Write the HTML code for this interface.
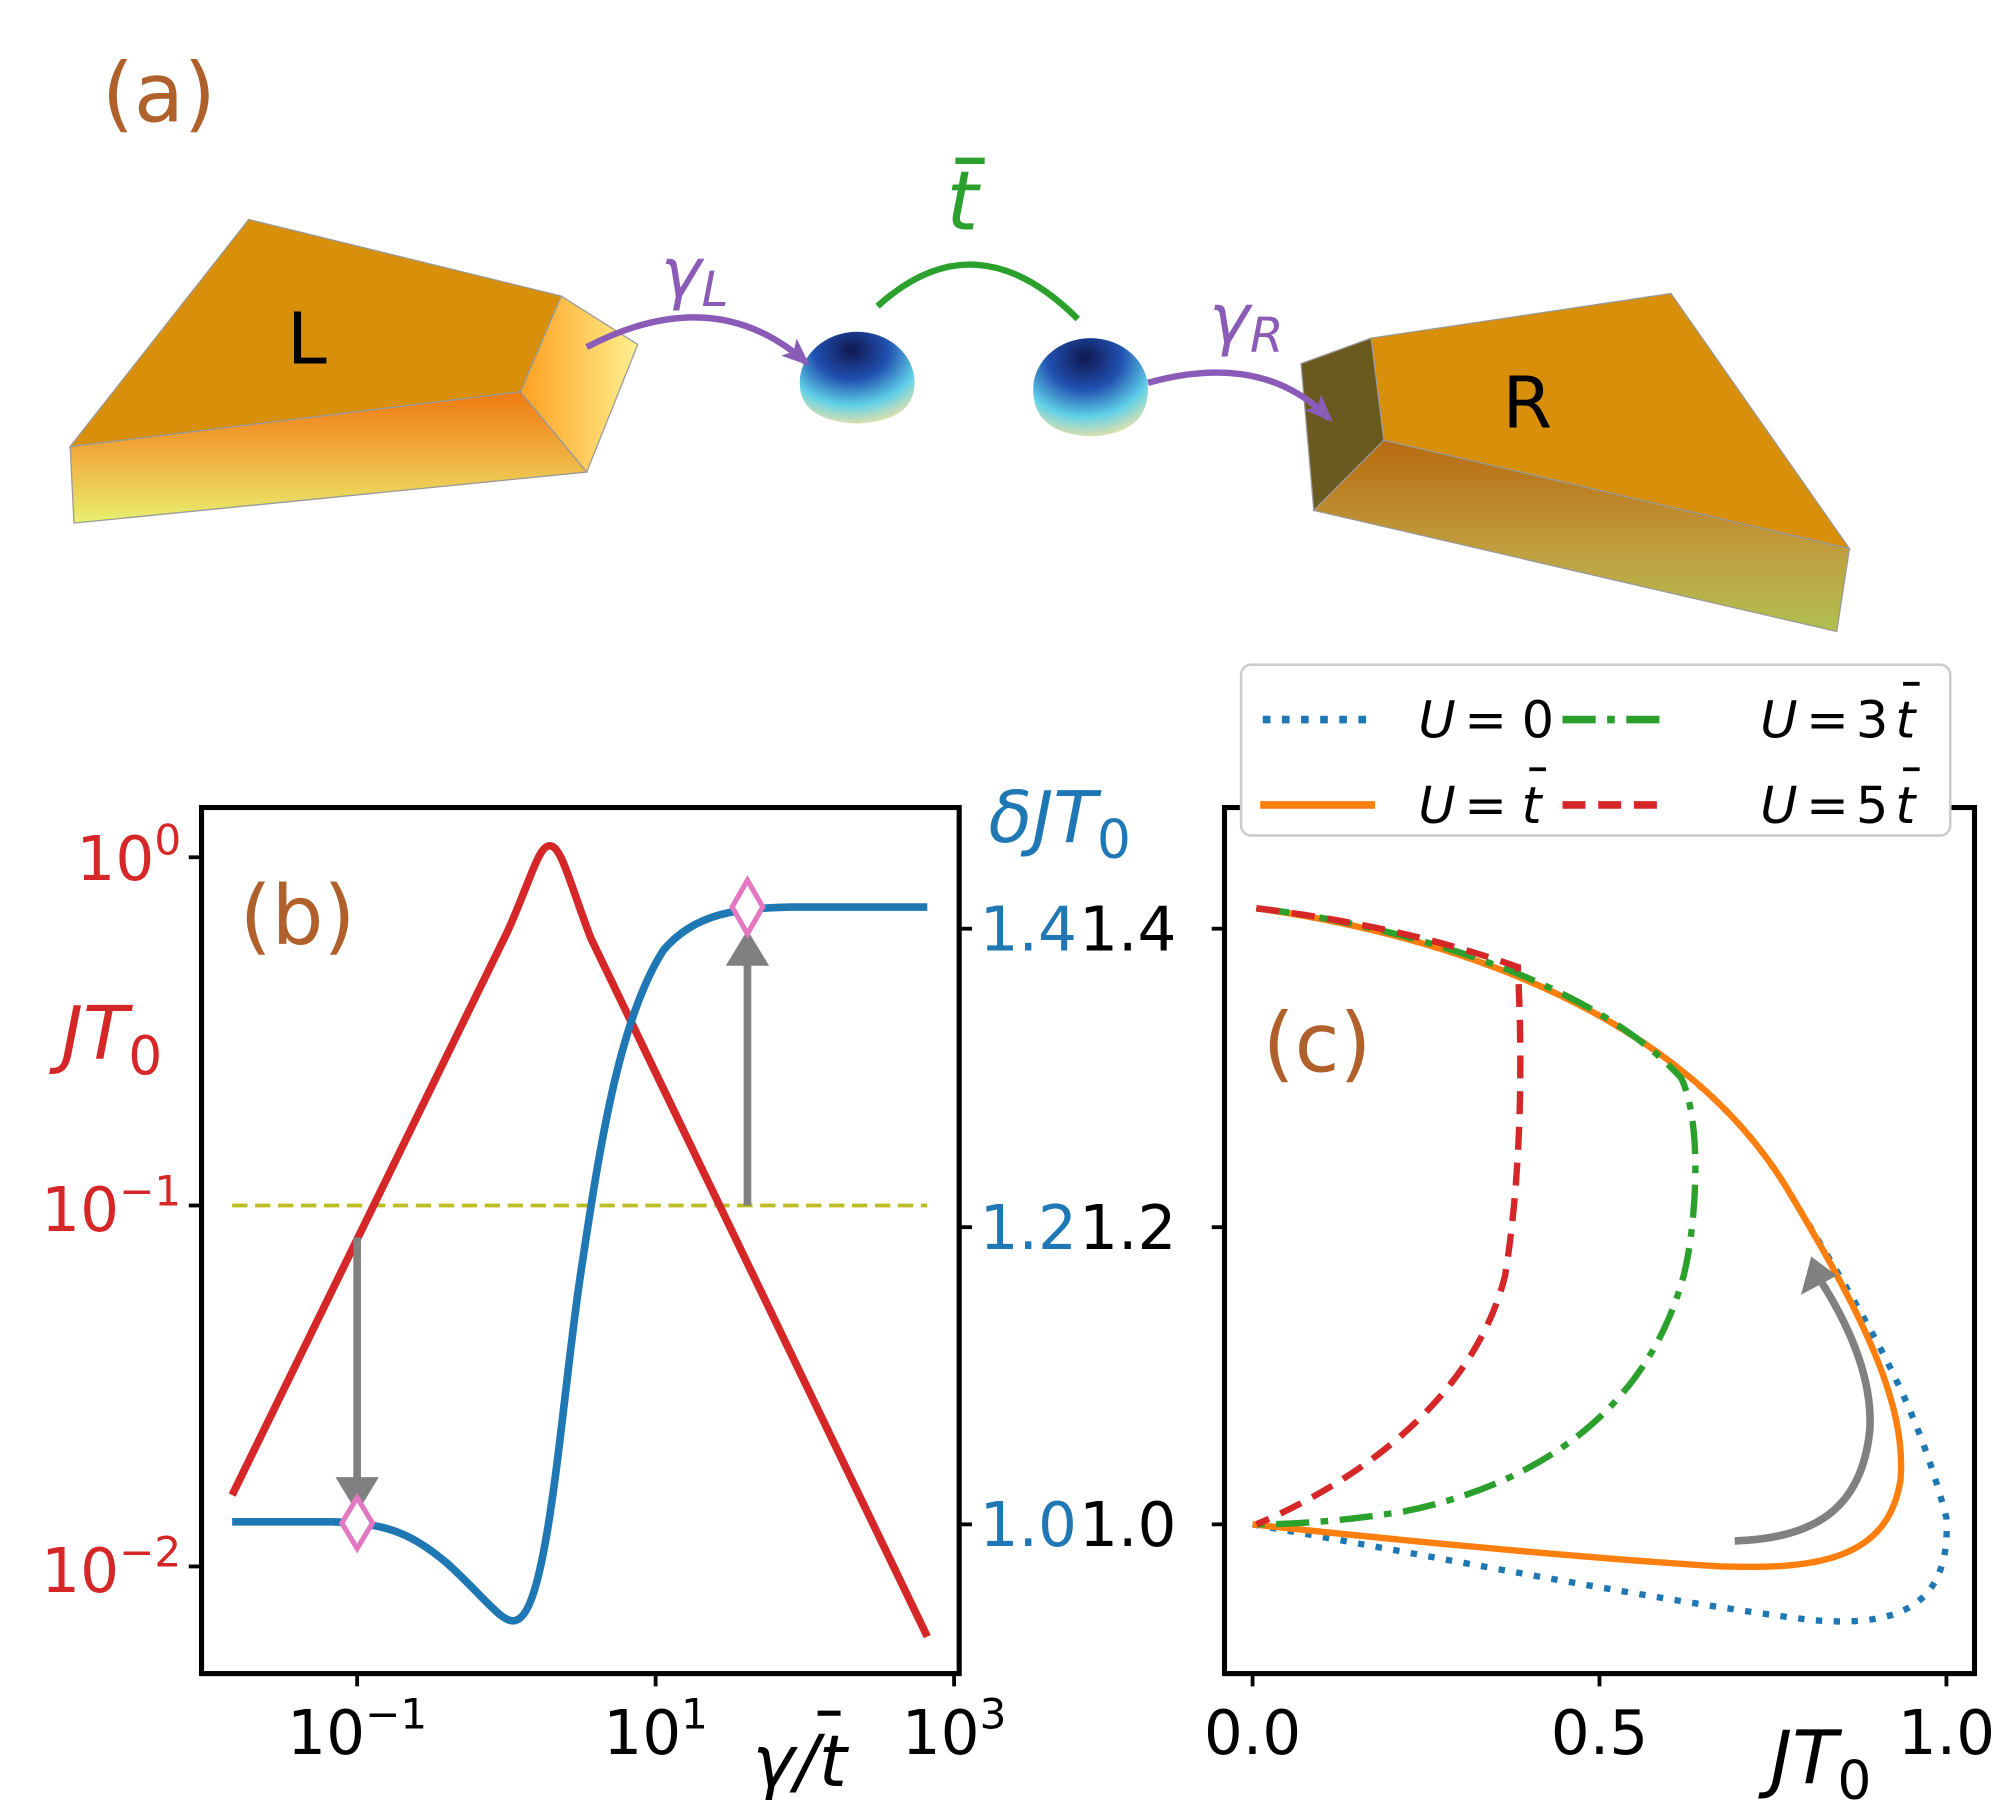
<!DOCTYPE html>
<html><head><meta charset="utf-8"><style>html,body{margin:0;padding:0;background:#fff}svg{display:block}</style></head>
<body>
<svg width="2000" height="1800" viewBox="0 0 1568 1411" xmlns="http://www.w3.org/2000/svg" font-family="DejaVu Sans, Liberation Sans, sans-serif">
<defs>
<linearGradient id="gf" x1="0" y1="0" x2="0" y2="1"><stop offset="0" stop-color="#f07a10"/><stop offset="0.5" stop-color="#f0b040"/><stop offset="1" stop-color="#e8f070"/></linearGradient>
<linearGradient id="gs" x1="0" y1="0" x2="1" y2="0"><stop offset="0" stop-color="#ffa020"/><stop offset="1" stop-color="#fff090"/></linearGradient>
<linearGradient id="gr" x1="0" y1="0" x2="0" y2="1"><stop offset="0" stop-color="#b86a10"/><stop offset="0.6" stop-color="#c0a040"/><stop offset="1" stop-color="#b0c050"/></linearGradient>
<radialGradient id="gb" cx="0.45" cy="0.2" r="0.8"><stop offset="0" stop-color="#101850"/><stop offset="0.4" stop-color="#2050b0"/><stop offset="0.75" stop-color="#60d0e8"/><stop offset="1" stop-color="#d8e0b0"/></radialGradient>
<marker id="ap" markerWidth="22" markerHeight="18" refX="18" refY="9" orient="auto" markerUnits="userSpaceOnUse" viewBox="0 0 22 18"><path d="M0,0 L22,9 L0,18 L5,9 z" fill="#8a5cb8"/></marker>
</defs>
<!-- panel a -->
<text x="80" y="95" font-size="64" fill="#b0602a">(a)</text>
<polygon points="55,350 408,307 460,370 58,410" fill="url(#gf)" stroke="#999" stroke-width="1"/>
<polygon points="408,307 440,232 500,270 460,370" fill="url(#gs)" stroke="#999" stroke-width="1"/>
<polygon points="55,350 195,172 440,232 408,307" fill="#d8900a" stroke="#999" stroke-width="1"/>
<text x="225" y="285" font-size="56" fill="#000">L</text>
<polygon points="1020,285 1075,265 1085,345 1030,400" fill="#6a5a20" stroke="#999" stroke-width="1"/>
<polygon points="1085,345 1450,430 1440,495 1030,400" fill="url(#gr)" stroke="#999" stroke-width="1"/>
<polygon points="1075,265 1310,230 1450,430 1085,345" fill="#d8900a" stroke="#999" stroke-width="1"/>
<text x="1178" y="335" font-size="56" fill="#000">R</text>
<path d="M627,300 A45,40 0 0 1 717,300 Q717,330 672,332 Q627,330 627,300z" fill="url(#gb)"/>
<path d="M810,305 A45,40 0 0 1 900,305 Q900,340 855,342 Q810,340 810,305z" fill="url(#gb)"/>
<path d="M460,272 Q560,220 632,284" fill="none" stroke="#8a5cb8" stroke-width="5" marker-end="url(#ap)"/>
<path d="M900,300 Q990,275 1042,328" fill="none" stroke="#8a5cb8" stroke-width="5" marker-end="url(#ap)"/>
<path d="M688,240 Q765,170 845,250" fill="none" stroke="#2ca02c" stroke-width="5"/>
<text x="518" y="232" font-size="54" font-style="italic" fill="#8a5cb8">γ<tspan font-size="38" dy="8">L</tspan></text>
<text x="948" y="268" font-size="54" font-style="italic" fill="#8a5cb8">γ<tspan font-size="38" dy="8">R</tspan></text>
<text x="742" y="180" font-size="64" font-style="italic" fill="#2ca02c">t</text>
<line x1="749" y1="126" x2="772" y2="126" stroke="#2ca02c" stroke-width="5"/>
<!-- panel b -->
<line x1="182" y1="945" x2="727" y2="945" stroke="#bcbd22" stroke-width="3" stroke-dasharray="12,6"/>
<path d="M182,1172 L398,730 C416,690 422,663 431,663 C440,663 446,690 463,735 L727,1283" fill="none" stroke="#d62728" stroke-width="6" stroke-linejoin="round"/>
<path d="M182,1193 L260,1193 C300,1194 320,1200 350,1225 C380,1252 395,1275 405,1270 C430,1262 440,1100 455,1000 C470,900 485,800 520,745 C545,715 580,712 620,711 L727,711" fill="none" stroke="#1f77b4" stroke-width="6"/>
<line x1="280" y1="970" x2="280" y2="1165" stroke="#808080" stroke-width="6"/>
<polygon points="263,1158 297,1158 280,1186" fill="#808080"/>
<line x1="586" y1="945" x2="586" y2="752" stroke="#808080" stroke-width="6"/>
<polygon points="569,757 603,757 586,729" fill="#808080"/>
<polygon points="280,1174 292,1194 280,1214 268,1194" fill="#fff" stroke="#e377c2" stroke-width="4"/>
<polygon points="586,690 598,711 586,732 574,711" fill="#fff" stroke="#e377c2" stroke-width="4"/>
<rect x="158" y="633" width="594" height="679" fill="none" stroke="#000" stroke-width="4"/>
<text x="188" y="740" font-size="64" fill="#b0602a">(b)</text>
<g stroke="#000" stroke-width="3"><line x1="158" y1="672" x2="148" y2="672"/><line x1="158" y1="945" x2="148" y2="945"/><line x1="158" y1="1228" x2="148" y2="1228"/>
<line x1="280" y1="1312" x2="280" y2="1322"/><line x1="514" y1="1312" x2="514" y2="1322"/><line x1="748" y1="1312" x2="748" y2="1322"/>
<line x1="752" y1="728" x2="762" y2="728"/><line x1="752" y1="962" x2="762" y2="962"/><line x1="752" y1="1195" x2="762" y2="1195"/></g>
<g fill="#d62728" font-size="48" text-anchor="end"><text x="142" y="690">10<tspan font-size="33" dy="-20">0</tspan></text><text x="142" y="965">10<tspan font-size="33" dy="-20">−1</tspan></text><text x="142" y="1248">10<tspan font-size="33" dy="-20">−2</tspan></text></g>
<text x="48" y="830" font-size="58" font-style="italic" fill="#d62728">JT<tspan font-style="normal" font-size="42" dy="12">0</tspan></text>
<text x="775" y="660" font-size="56" font-style="italic" fill="#1f77b4">δJT<tspan font-style="normal" font-size="42" dy="12">0</tspan></text>
<g font-size="48" text-anchor="middle" fill="#000"><text x="280" y="1375">10<tspan font-size="33" dy="-20">−1</tspan></text><text x="514" y="1375">10<tspan font-size="33" dy="-20">1</tspan></text><text x="748" y="1375">10<tspan font-size="33" dy="-20">3</tspan></text></g>
<text x="590" y="1400" font-size="56" font-style="italic">γ/t</text>
<line x1="641" y1="1343" x2="659" y2="1343" stroke="#000" stroke-width="4"/>
<g font-size="48"><text x="768" y="745" fill="#1f77b4">1.4</text><text x="768" y="979" fill="#1f77b4">1.2</text><text x="768" y="1212" fill="#1f77b4">1.0</text>
<text x="846" y="745">1.4</text><text x="846" y="979">1.2</text><text x="846" y="1212">1.0</text></g>
<!-- panel c -->
<path d="M985,712 C1150,735 1320,800 1400,930 C1460,1030 1500,1090 1526,1190 C1530,1265 1480,1275 1420,1270 C1300,1255 1150,1225 982,1195" fill="none" stroke="#1f77b4" stroke-width="5" stroke-dasharray="5,9"/>
<path d="M985,712 C1150,735 1320,800 1400,930 C1460,1030 1495,1100 1490,1160 C1480,1225 1420,1230 1350,1228 C1250,1222 1100,1208 982,1195" fill="none" stroke="#ff7f0e" stroke-width="5"/>
<path d="M985,712 C1100,725 1250,770 1318,845 C1335,880 1330,960 1320,1000 C1290,1110 1200,1165 1100,1185 C1050,1193 1010,1195 985,1195" fill="none" stroke="#2ca02c" stroke-width="5" stroke-dasharray="26,9,6,9"/>
<path d="M985,712 Q1100,726 1190,758 C1192,800 1196,900 1180,1000 C1160,1080 1090,1150 985,1195" fill="none" stroke="#d62728" stroke-width="5" stroke-dasharray="18,10"/>
<path d="M1360,1208 C1420,1206 1460,1185 1466,1120 C1468,1080 1450,1040 1428,1005" fill="none" stroke="#808080" stroke-width="6"/>
<polygon points="1412,1015 1440,1000 1420,985" fill="#808080"/>
<rect x="960" y="633" width="588" height="679" fill="none" stroke="#000" stroke-width="4"/>
<text x="990" y="840" font-size="64" fill="#b0602a">(c)</text>
<g stroke="#000" stroke-width="3"><line x1="982" y1="1312" x2="982" y2="1322"/><line x1="1254" y1="1312" x2="1254" y2="1322"/><line x1="1526" y1="1312" x2="1526" y2="1322"/>
<line x1="960" y1="728" x2="950" y2="728"/><line x1="960" y1="962" x2="950" y2="962"/><line x1="960" y1="1195" x2="950" y2="1195"/></g>
<g font-size="48" text-anchor="middle"><text x="982" y="1375">0.0</text><text x="1254" y="1375">0.5</text><text x="1526" y="1375">1.0</text></g>
<text x="1388" y="1398" font-size="58" font-style="italic">JT<tspan font-style="normal" font-size="42" dy="12">0</tspan></text>
<!-- legend -->
<rect x="973" y="521" width="556" height="134" rx="8" fill="#fff" stroke="#ccc" stroke-width="2"/>
<line x1="990" y1="564" x2="1072" y2="564" stroke="#1f77b4" stroke-width="6" stroke-dasharray="6,9"/>
<line x1="988" y1="631" x2="1078" y2="631" stroke="#ff7f0e" stroke-width="6"/>
<line x1="1225" y1="564" x2="1306" y2="564" stroke="#2ca02c" stroke-width="6" stroke-dasharray="26,9,6,9"/>
<line x1="1225" y1="631" x2="1306" y2="631" stroke="#d62728" stroke-width="6" stroke-dasharray="18,10"/>
<g font-size="40" fill="#000">
<text x="1112" y="578" font-style="italic">U</text><text x="1148" y="578">=</text><text x="1193" y="578">0</text>
<text x="1112" y="645" font-style="italic">U</text><text x="1148" y="645">=</text><text x="1193" y="645" font-style="italic">t</text>
<text x="1380" y="578" font-style="italic">U</text><text x="1416" y="578">=</text><text x="1455" y="578">3</text><text x="1486" y="578" font-style="italic">t</text>
<text x="1380" y="645" font-style="italic">U</text><text x="1416" y="645">=</text><text x="1455" y="645">5</text><text x="1486" y="645" font-style="italic">t</text>
</g>
<g stroke="#000" stroke-width="3"><line x1="1199" y1="603" x2="1212" y2="603"/><line x1="1492" y1="536" x2="1505" y2="536"/><line x1="1492" y1="603" x2="1505" y2="603"/></g>
</svg>
</body></html>
